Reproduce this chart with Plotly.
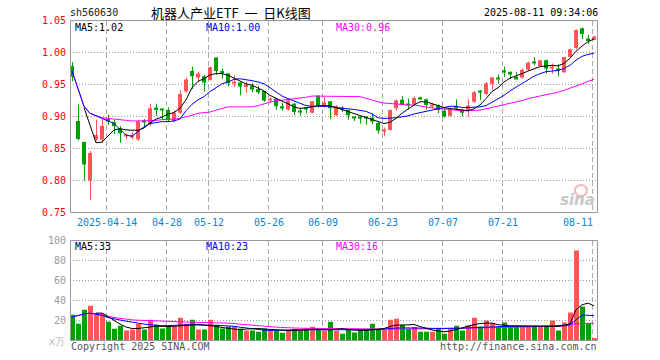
import plotly.graph_objects as go

# ---------------- data ----------------
tick_labels = ["2025-04-14", "04-28", "05-12", "05-26", "06-09", "06-23", "07-07", "07-21", "08-11"]
tick_index = [6, 16, 23, 33, 42, 52, 62, 72, 87]

opens = [0.979, 0.893, 0.860, 0.800, 0.864, 0.864, 0.896, 0.891, 0.881, 0.869,
         0.868, 0.864, 0.894, 0.888, 0.914, 0.912, 0.910, 0.893, 0.906, 0.939,
         0.971, 0.961, 0.963, 0.957, 0.992, 0.971, 0.967, 0.952, 0.953, 0.946,
         0.948, 0.943, 0.940, 0.925, 0.928, 0.916, 0.911, 0.920, 0.909, 0.914,
         0.906, 0.933, 0.916, 0.924, 0.902, 0.914, 0.910, 0.900, 0.900, 0.900,
         0.898, 0.890, 0.876, 0.879, 0.913, 0.926, 0.919, 0.919, 0.930, 0.927,
         0.916, 0.918, 0.909, 0.901, 0.916, 0.911, 0.910, 0.923, 0.940, 0.935,
         0.951, 0.961, 0.972, 0.970, 0.962, 0.961, 0.973, 0.985, 0.979, 0.988,
         0.976, 0.973, 0.969, 0.993, 1.007, 1.038, 1.022, 1.020]
highs = [0.985, 0.919, 0.861, 0.846, 0.895, 0.898, 0.903, 0.895, 0.885, 0.873,
         0.876, 0.895, 0.896, 0.920, 0.920, 0.913, 0.914, 0.910, 0.941, 0.961,
         0.978, 0.970, 0.965, 0.978, 0.992, 0.975, 0.968, 0.964, 0.954, 0.954,
         0.952, 0.948, 0.940, 0.930, 0.928, 0.921, 0.927, 0.921, 0.914, 0.914,
         0.924, 0.933, 0.930, 0.924, 0.918, 0.916, 0.911, 0.900, 0.900, 0.900,
         0.905, 0.892, 0.883, 0.911, 0.927, 0.932, 0.928, 0.931, 0.931, 0.928,
         0.921, 0.919, 0.913, 0.914, 0.927, 0.911, 0.927, 0.940, 0.941, 0.954,
         0.962, 0.966, 0.978, 0.970, 0.970, 0.975, 0.986, 0.993, 0.988, 0.989,
         0.983, 0.982, 0.993, 1.006, 1.036, 1.039, 1.028, 1.026]
lows = [0.955, 0.863, 0.800, 0.769, 0.862, 0.859, 0.887, 0.873, 0.859, 0.864,
        0.864, 0.862, 0.884, 0.885, 0.901, 0.895, 0.892, 0.891, 0.904, 0.937,
        0.943, 0.954, 0.939, 0.956, 0.965, 0.959, 0.947, 0.946, 0.933, 0.937,
        0.938, 0.935, 0.923, 0.921, 0.910, 0.909, 0.909, 0.902, 0.901, 0.905,
        0.905, 0.914, 0.914, 0.896, 0.901, 0.907, 0.895, 0.893, 0.889, 0.887,
        0.888, 0.873, 0.869, 0.878, 0.909, 0.918, 0.911, 0.918, 0.926, 0.911,
        0.913, 0.905, 0.898, 0.900, 0.910, 0.900, 0.900, 0.921, 0.926, 0.933,
        0.942, 0.951, 0.962, 0.959, 0.958, 0.959, 0.972, 0.980, 0.978, 0.967,
        0.967, 0.963, 0.968, 0.992, 1.005, 1.021, 1.013, 1.019]
closes = [0.962, 0.865, 0.825, 0.843, 0.871, 0.885, 0.893, 0.885, 0.874, 0.872,
          0.871, 0.893, 0.891, 0.913, 0.910, 0.910, 0.895, 0.906, 0.935, 0.958,
          0.963, 0.967, 0.953, 0.977, 0.971, 0.968, 0.952, 0.954, 0.947, 0.950,
          0.942, 0.938, 0.925, 0.927, 0.916, 0.914, 0.925, 0.907, 0.907, 0.911,
          0.924, 0.918, 0.922, 0.913, 0.916, 0.911, 0.902, 0.897, 0.898, 0.898,
          0.892, 0.878, 0.880, 0.910, 0.925, 0.919, 0.918, 0.929, 0.928, 0.918,
          0.918, 0.910, 0.900, 0.911, 0.914, 0.906, 0.917, 0.938, 0.938, 0.952,
          0.961, 0.958, 0.969, 0.967, 0.959, 0.973, 0.984, 0.984, 0.988, 0.975,
          0.978, 0.972, 0.993, 1.005, 1.035, 1.029, 1.018, 1.025]

volumes = [25.7, 16.7, 30.7, 34.7, 27.4, 26.7, 18.7, 11.7, 14.7, 10.0,
           11.0, 16.7, 11.0, 20.7, 15.7, 12.0, 13.4, 14.0, 22.7, 16.7,
           20.7, 11.0, 11.0, 20.7, 15.7, 12.0, 14.0, 14.0, 12.0, 10.0,
           10.0, 8.7, 12.0, 9.4, 10.0, 7.7, 10.0, 11.4, 9.4, 12.0,
           13.7, 12.0, 10.0, 18.7, 9.7, 6.7, 11.4, 8.0, 9.7, 10.7,
           16.7, 10.7, 10.7, 20.7, 21.7, 15.7, 11.4, 13.4, 8.7, 8.7,
           8.7, 11.4, 6.7, 12.7, 14.7, 10.0, 14.7, 22.7, 14.0, 20.0,
           17.4, 14.0, 18.0, 13.4, 13.4, 13.4, 14.0, 14.7, 14.0, 14.0,
           20.0, 10.0, 18.0, 28.0, 90.0, 34.0, 17.4, 2.4]

ma5 = [None, None, 0.914, 0.886, 0.859, 0.860, 0.870, 0.879, 0.881, 0.879,
       0.8786, 0.8786, 0.882, 0.890, 0.896, 0.899, 0.904, 0.906, 0.913, 0.926,
       0.945, 0.955, 0.959, 0.965, 0.967, 0.967, 0.9645, 0.960, 0.955, 0.951,
       0.949, 0.945, 0.940, 0.933, 0.928, 0.924, 0.920, 0.915, 0.9125, 0.9135,
       0.915, 0.917, 0.917, 0.9165, 0.914, 0.911, 0.907, 0.904, 0.902, 0.899,
       0.895, 0.893, 0.889, 0.891, 0.897, 0.905, 0.912, 0.918, 0.923, 0.923,
       0.920, 0.917, 0.914, 0.9125, 0.911, 0.910, 0.909, 0.912, 0.918, 0.928,
       0.939, 0.945, 0.954, 0.960, 0.963, 0.967, 0.971, 0.975, 0.978, 0.979,
       0.980, 0.979, 0.983, 0.991, 1.002, 1.010, 1.017, 1.021]
ma10 = [0.971, 0.944, 0.916, 0.905, 0.901, 0.898, 0.894, 0.889, 0.880, 0.871,
        0.869, 0.877, 0.884, 0.889, 0.891, 0.892, 0.892, 0.893, 0.896, 0.909,
        0.919, 0.926, 0.931, 0.939, 0.945, 0.951, 0.954, 0.958, 0.959, 0.958,
        0.956, 0.954, 0.951, 0.945, 0.938, 0.932, 0.928, 0.924, 0.921, 0.917,
        0.916, 0.916, 0.916, 0.916, 0.914, 0.9125, 0.912, 0.911, 0.910, 0.908,
        0.904, 0.898, 0.897, 0.897, 0.898, 0.8995, 0.901, 0.904, 0.906, 0.908,
        0.910, 0.913, 0.915, 0.916, 0.916, 0.914, 0.914, 0.914, 0.915, 0.917,
        0.922, 0.927, 0.933, 0.940, 0.946, 0.952, 0.958, 0.963, 0.967, 0.970,
        0.971, 0.972, 0.975, 0.980, 0.988, 0.994, 0.997, 0.999]
ma30 = [0.971, 0.944, 0.916, 0.905, 0.901, 0.898, 0.897, 0.896, 0.894, 0.893,
        0.893, 0.893, 0.893, 0.893, 0.894, 0.895, 0.895, 0.896, 0.897, 0.899,
        0.902, 0.905, 0.906, 0.907, 0.910, 0.913, 0.915, 0.915, 0.915, 0.915,
        0.915, 0.917, 0.920, 0.923, 0.925, 0.9255, 0.9266, 0.9276, 0.9286, 0.930,
        0.932, 0.932, 0.932, 0.932, 0.932, 0.932, 0.932, 0.932, 0.931, 0.9286,
        0.9255, 0.923, 0.921, 0.920, 0.920, 0.919, 0.918, 0.918, 0.917, 0.915,
        0.9135, 0.9125, 0.912, 0.911, 0.910, 0.909, 0.909, 0.909, 0.910, 0.912,
        0.914, 0.916, 0.918, 0.920, 0.922, 0.925, 0.928, 0.930, 0.932, 0.934,
        0.935, 0.938, 0.941, 0.944, 0.947, 0.951, 0.955, 0.958]

vol_ma5 = [None, None, None, None, 27.4, 27.4, 24.0, 20.0, 16.4, 13.5,
           12.0, 12.0, 12.5, 13.5, 14.3, 14.0, 14.0, 14.2, 14.7, 15.6,
           16.0, 16.0, 15.5, 15.0, 14.2, 13.0, 12.0, 11.0, 10.7, 11.5,
           12.0, 12.0, 11.5, 11.0, 10.6, 10.3, 10.0, 10.0, 10.0, 10.5,
           11.2, 11.4, 11.0, 10.7, 11.2, 11.8, 11.0, 10.3, 10.0, 10.2,
           10.6, 11.0, 12.0, 14.0, 15.4, 15.4, 15.4, 16.0, 14.0, 12.0,
           10.5, 9.5, 8.7, 9.5, 10.7, 12.5, 14.5, 15.8, 17.0, 17.4,
           17.4, 15.8, 15.0, 14.7, 14.7, 14.7, 14.7, 14.5, 14.1, 14.0,
           14.0, 14.0, 15.0, 16.7, 30.7, 35.7, 37.4, 34.7]
vol_ma10 = [23.4, 25.0, 26.5, 27.4, 26.5, 25.2, 23.0, 21.5, 20.5, 19.4,
            18.3, 17.4, 16.4, 15.8, 15.2, 14.8, 14.9, 15.3, 15.7, 15.7,
            15.7, 15.7, 15.5, 15.3, 15.1, 14.9, 14.7, 14.2, 13.3, 12.4,
            11.6, 10.8, 10.4, 10.1, 10.0, 10.2, 10.5, 10.7, 10.7, 10.7,
            10.7, 11.0, 11.3, 11.4, 11.4, 11.4, 11.3, 11.1, 10.8, 10.7,
            10.7, 10.8, 11.5, 12.2, 12.5, 12.6, 12.7, 12.7, 12.6, 12.4,
            12.1, 12.0, 12.0, 12.0, 12.2, 12.4, 12.7, 13.0, 13.2, 13.4,
            13.6, 13.9, 14.0, 14.0, 14.0, 14.0, 14.0, 14.1, 14.2, 14.4,
            14.6, 14.9, 15.2, 15.7, 20.7, 25.4, 25.2, 24.8]
vol_ma30 = [23.4, 25.0, 26.5, 27.4, 26.5, 25.2, 24.2, 23.0, 22.0, 21.0,
            20.6, 20.3, 20.0, 19.7, 19.4, 19.0, 18.9, 18.8, 18.7, 18.5,
            18.3, 18.0, 17.9, 17.8, 17.7, 17.6, 17.5, 17.0, 16.3, 15.7,
            15.2, 14.6, 14.1, 13.8, 13.4, 13.0, 12.6, 12.4, 12.3, 12.2,
            12.1, 12.0, 12.0, 11.9, 11.8, 11.7, 11.6, 11.5, 11.4, 11.4,
            11.4, 11.4, 11.4, 11.4, 11.4, 11.4, 11.4, 11.4, 11.4, 11.4,
            11.4, 11.6, 11.8, 12.0, 12.1, 12.2, 12.4, 12.5, 12.7, 12.8,
            12.9, 13.0, 13.1, 13.3, 13.4, 13.5, 13.6, 13.7, 13.8, 13.9,
            14.0, 14.3, 14.8, 15.7, 16.7, 16.9, 17.2, 17.4]

legend_price = {"MA5": "1.02", "MA10": "1.00", "MA30": "0.96"}
legend_volume = {"MA5": "33", "MA10": "23", "MA30": "16"}

price_ticks = [1.05, 1.00, 0.95, 0.90, 0.85, 0.80, 0.75]
vol_ticks = [100, 80, 60, 40, 20]

# ---------------- styling / geometry ----------------
W, H = 660, 360
RED = "#FF5555"
GREEN = "#00A000"
MONO = "DejaVu Sans Mono"
MA_COLORS = {"MA5": "#000000", "MA10": "#0000FF", "MA30": "#FF00FF"}
NB = "\u00a0"


def px(x):
    return x / W


def py(y):
    return 1 - y / H


n = len(closes)
idx = list(range(n))
up = [closes[i] >= opens[i] for i in idx]

fig = go.Figure()

# candle bodies and wicks
MINH = 0.0016
for flag, col in ((True, RED), (False, GREEN)):
    xs = [i for i in idx if up[i] == flag]
    bases = [min(opens[i], closes[i]) for i in xs]
    hs = [max(abs(closes[i] - opens[i]), MINH) for i in xs]
    fig.add_trace(go.Bar(x=xs, y=hs, base=bases, width=4 / 6, marker_color=col,
                         marker_line_width=0, xaxis="x", yaxis="y", hoverinfo="skip"))
    wx, wy = [], []
    for i in xs:
        wx += [i + 0.5 / 6, i + 0.5 / 6, None]
        wy += [lows[i], highs[i], None]
    fig.add_trace(go.Scatter(x=wx, y=wy, mode="lines", line=dict(color=col, width=1),
                             xaxis="x", yaxis="y", hoverinfo="skip"))

for arr, key in ((ma30, "MA30"), (ma10, "MA10"), (ma5, "MA5")):
    fig.add_trace(go.Scatter(x=idx, y=arr, mode="lines", line=dict(color=MA_COLORS[key], width=1),
                             xaxis="x", yaxis="y", hoverinfo="skip"))

# volume bars
for flag, col in ((True, RED), (False, GREEN)):
    xs = [i for i in idx if up[i] == flag]
    fig.add_trace(go.Bar(x=[i + 0.5 / 6 for i in xs], y=[volumes[i] for i in xs], width=5 / 6,
                         marker_color=col, marker_line_width=0, xaxis="x2", yaxis="y2",
                         hoverinfo="skip"))

for arr, key in ((vol_ma30, "MA30"), (vol_ma10, "MA10"), (vol_ma5, "MA5")):
    fig.add_trace(go.Scatter(x=idx, y=arr, mode="lines", line=dict(color=MA_COLORS[key], width=1),
                             xaxis="x2", yaxis="y2", hoverinfo="skip"))

xdom = [px(70), px(598)]
xr = [-1 / 3, 88 - 1 / 3]
grid_x = [t - 0.25 for t in tick_index]
common_x = dict(domain=xdom, range=xr, showticklabels=False, zeroline=False, showline=False,
                tickvals=grid_x, showgrid=True, gridcolor="#AAAAAA", gridwidth=1,
                griddash="5px,3px", ticks="", fixedrange=True)

annotations = []


def text(x, y, s, color="#000000", size=10, anchor="left", family=MONO, xref="paper", yref="paper"):
    annotations.append(dict(x=x, y=y, xref=xref, yref=yref, text=s, showarrow=False,
                            xanchor=anchor, yanchor="middle", borderpad=0,
                            font=dict(family=family, size=size, color=color)))


# header
text(px(69), py(13), "sh560630", "#222222")
text(px(150), py(12.5), "机器人产业ETF" + NB * 2 + "一" + NB * 2 + "日K线图", "#000000", 13,
     family="Noto Sans CJK SC")
text(px(599), py(13), "2025-08-11 09:34:06", "#000000", anchor="right")

# price axis labels
for v in price_ticks:
    text(px(67), v, f"{v:.2f}", "#FF0000", anchor="right", yref="y")
# volume axis labels
for v in vol_ticks:
    text(px(67), v, str(v), "#999999", anchor="right", yref="y2")
text(px(66), py(341), "x万", "#BBBBBB", anchor="right", family="DejaVu Sans")

# date labels
for t, lab in zip(tick_index, tick_labels):
    xc = 72 + 6 * t - 1.5
    if t == tick_index[-1]:
        text(px(xc + 1), py(222), lab, "#0A84D8", anchor="right")
    else:
        text(px(xc), py(222), lab, "#0A84D8", anchor="center")

# MA legends
for key, x0 in (("MA5", 74), ("MA10", 205), ("MA30", 335)):
    text(px(x0), py(27.5), f"{key}:{legend_price[key]}", MA_COLORS[key])
    text(px(x0), py(246.5), f"{key}:{legend_volume[key]}", MA_COLORS[key])

# footer
text(px(70), py(346), "Copyright 2025 SINA.COM", "#555555")
text(px(598), py(346), "http://finance.sina.com.cn", "#555555", anchor="right")

# sina watermark
text(px(596), py(200), "<b><i>sina</i></b>", "#C8C8C8", 15, anchor="right", family="DejaVu Sans")

shapes = [
    dict(type="rect", xref="paper", yref="paper", x0=px(70.5), x1=px(597.5), y0=py(212.5), y1=py(20.5),
         line=dict(color="#999999", width=1), fillcolor="rgba(0,0,0,0)", layer="above"),
    dict(type="rect", xref="paper", yref="paper", x0=px(70.5), x1=px(597.5), y0=py(340.5), y1=py(240.5),
         line=dict(color="#999999", width=1), fillcolor="rgba(0,0,0,0)", layer="above"),
    dict(type="circle", xref="paper", yref="paper", x0=px(575), x1=px(587), y0=py(196), y1=py(185),
         line=dict(color="#F4B8B8", width=2), fillcolor="rgba(0,0,0,0)", layer="below"),
]

fig.update_layout(
    width=W, height=H, autosize=False,
    margin=dict(l=0, r=0, t=0, b=0),
    paper_bgcolor="#FFFFFF", plot_bgcolor="#FFFFFF",
    showlegend=False, barmode="overlay", hovermode=False,
    xaxis=dict(**common_x, anchor="y"),
    xaxis2=dict(**common_x, anchor="y2", matches="x"),
    yaxis=dict(domain=[py(212.5), py(20.5)], range=[0.75, 1.05], tickvals=[0.80, 0.85, 0.90, 0.95, 1.00],
               showticklabels=False, showgrid=True, gridcolor="#999999", griddash="1px,2px",
               zeroline=False, showline=False, ticks="", fixedrange=True),
    yaxis2=dict(domain=[py(340.5), py(240.5)], range=[0, 100], tickvals=[20, 40, 60, 80],
                showticklabels=False, showgrid=True, gridcolor="#999999", griddash="1px,2px",
                zeroline=False, showline=False, ticks="", fixedrange=True),
    annotations=annotations,
    shapes=shapes,
)

fig.write_html("out.html", config={"displayModeBar": False},
               post_script="document.body.style.margin='0';document.body.style.padding='0';")
